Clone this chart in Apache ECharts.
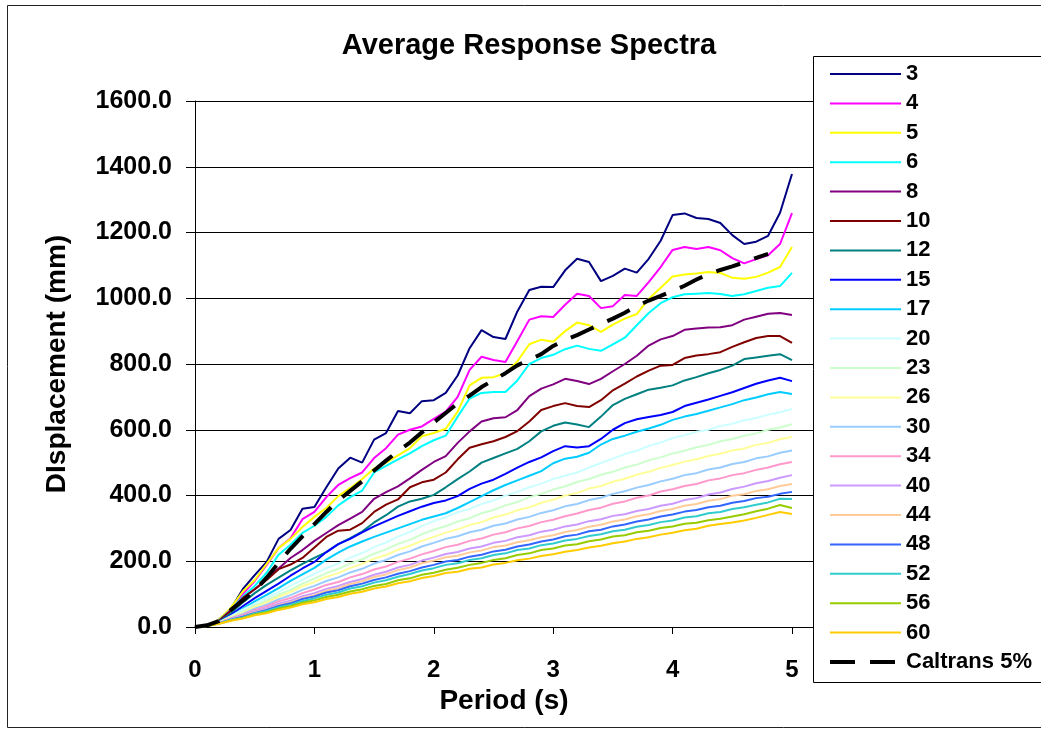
<!DOCTYPE html>
<html>
<head>
<meta charset="utf-8">
<script src="https://cdn.jsdelivr.net/npm/echarts@6/dist/echarts.min.js"></script>
<style>
  html, body { margin: 0; padding: 0; background: #fff; }
  #chart { width: 1041px; height: 729px; }
</style>
</head>
<body>
<div id="chart"></div>
<script>
// Period axis (s)
const periods = [
  0.0, 0.1, 0.2, 0.3, 0.4, 0.5, 0.6, 0.7, 0.8, 0.9,
  1.0, 1.1, 1.2, 1.3, 1.4, 1.5, 1.6, 1.7, 1.8, 1.9,
  2.0, 2.1, 2.2, 2.3, 2.4, 2.5, 2.6, 2.7, 2.8, 2.9,
  3.0, 3.1, 3.2, 3.3, 3.4, 3.5, 3.6, 3.7, 3.8, 3.9,
  4.0, 4.1, 4.2, 4.3, 4.4, 4.5, 4.6, 4.7, 4.8, 4.9,
  5.0
];

// Average displacement spectra (mm), one array per record set
const s3 = [0,5,22,55,115,158,198,268,295,360, 365,425,482,515,500,570,590,657,650,687, 690,712,765,848,903,882,876,960,1025,1035, 1034,1085,1120,1110,1052,1068,1090,1078,1120,1175, 1253,1258,1244,1241,1229,1192,1165,1172,1190,1260, 1378];
const s4 = [0,5,20,55,100,140,189,240,270,328, 350,395,432,453,470,514,544,585,600,610, 633,655,700,782,822,812,806,870,935,945, 943,980,1014,1007,970,976,1010,1007,1049,1095, 1147,1156,1150,1156,1146,1122,1106,1119,1131,1165, 1259];
const s5 = [0,5,22,58,108,143,192,240,268,304, 335,362,398,423,450,482,500,522,544,580, 590,603,655,735,758,760,772,808,860,874, 868,900,926,918,898,920,938,952,998,1032, 1066,1072,1075,1080,1077,1062,1059,1065,1078,1095, 1156];
const s6 = [0,5,20,52,92,125,165,220,250,286, 308,335,370,395,415,470,490,510,528,550, 568,582,640,695,712,715,715,750,800,818, 828,845,856,846,840,860,880,918,955,985, 1003,1012,1014,1016,1013,1007,1012,1022,1032,1037, 1077];
const s8 = [0,5,18,52,88,115,145,178,210,234, 262,286,310,330,350,390,410,428,452,478, 502,520,560,595,625,635,638,660,702,725, 738,755,748,739,755,778,800,825,856,875, 885,904,908,911,912,918,935,944,953,955, 949];
const s10 = [0,5,18,48,88,115,143,176,190,210, 242,274,293,296,316,350,372,388,425,440, 448,470,510,545,556,565,578,596,625,660, 672,681,672,669,690,720,740,762,780,795, 797,818,826,830,836,852,866,879,885,885, 864];
const s12 = [0,5,16,42,75,103,128,150,172,192, 210,228,252,270,290,318,340,366,382,390, 402,425,450,473,500,514,528,542,565,595, 612,622,616,608,640,675,694,708,722,728, 735,750,760,772,782,795,815,820,825,830, 812];
const s15 = [0,5,15,36,63,88,110,132,156,178, 198,228,252,268,288,306,322,338,352,366, 377,385,398,420,436,448,466,485,502,516, 535,550,546,550,572,600,620,632,639,645, 654,672,682,692,703,714,727,740,750,758, 748];
const s17 = [0,4,14,32,56,78,98,118,140,160, 180,205,226,245,260,274,287,300,313,326, 336,346,362,380,398,416,432,446,460,474, 498,512,518,530,555,572,582,594,604,615, 630,640,648,658,668,678,690,698,708,715, 709];
const s20 = [0,4,14,33,53,70,89,106,126,143, 162,179,193,211,225,243,257,275,289,307, 322,334,349,359,374,385,400,411,425,436, 450,460,470,485,499,512,526,536,551,561, 575,583,594,600,611,618,629,636,646,653, 663];
const s23 = [0,4,13,31,46,65,80,98,113,132, 147,164,177,193,206,223,236,253,265,282, 296,307,321,331,346,356,370,380,395,405, 418,428,441,450,463,472,485,494,507,516, 528,536,547,554,565,572,582,589,600,607, 617];
const s26 = [0,4,13,30,43,61,75,92,106,124, 137,153,164,180,192,208,219,235,247,262, 274,287,297,310,319,333,342,355,364,378, 387,400,408,421,429,442,451,463,472,484, 493,503,510,520,527,537,543,554,560,571, 578];
const s30 = [0,4,12,27,39,56,68,84,97,113, 125,140,151,166,177,193,204,219,230,245, 256,268,276,288,296,308,315,327,335,347, 355,367,374,386,393,405,413,424,432,443, 451,462,468,479,485,496,502,513,519,530, 537];
const s34 = [0,4,12,26,37,52,63,78,88,103, 114,128,137,151,161,175,184,198,208,221, 231,243,250,262,269,281,288,300,307,319, 326,337,345,356,363,375,382,393,400,412, 419,429,435,446,452,462,468,478,485,495, 502];
const s40 = [0,4,12,25,34,48,57,71,80,94, 103,116,125,137,146,159,168,181,189,202, 211,222,228,239,245,256,262,273,279,290, 296,306,312,322,328,338,343,353,359,369, 375,386,392,403,409,420,427,437,444,454, 462];
const s44 = [0,3,11,23,32,45,53,66,75,88, 97,110,118,131,139,152,160,173,181,194, 202,212,217,227,233,243,248,258,264,273, 279,289,295,305,311,321,327,337,343,353, 359,369,374,384,389,399,404,414,419,429, 435];
const s48 = [0,3,11,22,31,43,52,64,72,85, 93,105,112,124,132,143,151,162,170,181, 189,199,204,214,220,230,235,245,251,260, 266,276,281,291,296,306,312,321,327,336, 342,351,356,364,369,378,383,392,396,405, 411];
const s52 = [0,3,11,22,29,41,49,60,68,79, 87,98,105,117,124,135,142,153,161,172, 179,189,194,204,209,219,224,234,239,249, 254,263,268,277,282,291,296,305,310,319, 324,333,337,346,350,359,364,372,379,390, 389];
const s56 = [0,3,10,20,27,38,45,56,63,74, 81,91,98,108,115,125,131,142,148,159, 165,174,180,189,195,204,209,219,224,234, 239,248,252,261,266,275,279,288,293,301, 306,314,317,325,329,336,343,352,360,371, 362];
const s60 = [0,3,10,19,26,36,42,52,59,69, 75,85,91,101,107,117,123,133,139,149, 155,164,168,177,181,190,195,203,208,216, 221,229,234,242,247,255,260,268,273,281, 287,294,299,308,313,318,324,332,341,350, 344];

// Caltrans 5% damped design spectrum (defined up to 4.8 s)
const caltrans = [0,5,18,52,80,110,150,195,238,276, 313,350,385,414,443,476,506,535,561,592, 622,651,680,704,730,751,772,796,813,830, 855,873,888,905,922,938,956,976,993,1007, 1022,1038,1057,1073,1086,1097,1109,1123,1135];

// Series labels and colours
const seriesNames = ['3','4','5','6','8','10','12','15','17','20','23','26','30','34','40','44','48','52','56','60'];
const seriesValues = [s3,s4,s5,s6,s8,s10,s12,s15,s17,s20,s23,s26,s30,s34,s40,s44,s48,s52,s56,s60];
const seriesColors = ['#000080','#FF00FF','#FFFF00','#00FFFF','#800080','#800000','#008080','#0000FF','#00CCFF','#CCFFFF',
                      '#CCFFCC','#FFFF99','#99CCFF','#FF99CC','#CC99FF','#FFCC99','#3366FF','#33CCCC','#99CC00','#FFCC00'];
const designName = 'Caltrans 5%';

// Axis tick settings
const yTicks = { min: 0, max: 1600, step: 200 };
const xTicks = { min: 0, step: 1 };

const FONT = '"Liberation Sans", Arial, Helvetica, sans-serif';
const DESIGN_DASH = [25, 15];

const chart = echarts.init(document.getElementById('chart'), null, { renderer: 'canvas' });

const series = seriesValues.map((vals, k) => ({
  name: seriesNames[k],
  type: 'line',
  symbol: 'none',
  silent: true,
  color: seriesColors[k],
  lineStyle: { color: seriesColors[k], width: 2 },
  data: vals.map((v, i) => [periods[i], v])
}));

series.push({
  name: designName,
  type: 'line',
  symbol: 'none',
  silent: true,
  color: '#000',
  lineStyle: { color: '#000', width: 4, type: DESIGN_DASH },
  data: caltrans.map((v, i) => [periods[i], v])
});

// Legend entries: plain line swatches, the design curve dashed and thick
const legendData = seriesNames.map((n, k) => ({
  name: n,
  lineStyle: { color: seriesColors[k], width: 2, type: 'solid' }
}));
legendData.push({
  name: designName,
  lineStyle: { color: '#000', width: 4, type: DESIGN_DASH }
});

const option = {
  animation: false,
  backgroundColor: '#fff',
  grid: { left: 195, top: 101, width: 618, height: 526, containLabel: false },
  xAxis: {
    type: 'value',
    min: xTicks.min,
    max: 5.176,
    interval: xTicks.step,
    axisLine: { show: true, lineStyle: { color: '#000', width: 1 } },
    axisTick: { show: true, length: 7, inside: false, lineStyle: { color: '#000' } },
    splitLine: { show: false },
    axisLabel: {
      formatter: v => (Math.abs(v - Math.round(v)) < 1e-6 ? String(Math.round(v)) : ''),
      fontSize: 24, fontWeight: 'bold', color: '#000', fontFamily: FONT, margin: 31
    },
    name: 'Period (s)',
    nameLocation: 'middle',
    nameGap: 60,
    nameTextStyle: { fontSize: 28, fontWeight: 'bold', color: '#000', fontFamily: FONT }
  },
  yAxis: {
    type: 'value',
    min: yTicks.min,
    max: yTicks.max,
    interval: yTicks.step,
    axisLine: { show: true, lineStyle: { color: '#000', width: 1 } },
    axisTick: { show: true, length: 9, inside: false, lineStyle: { color: '#000' } },
    splitLine: { show: true, lineStyle: { color: '#000', width: 1 } },
    axisLabel: {
      formatter: v => v.toFixed(1),
      fontSize: 25, fontWeight: 'bold', color: '#000', fontFamily: FONT, margin: 23
    },
    name: 'DIsplacement (mm)',
    nameLocation: 'middle',
    nameRotate: 90,
    nameGap: 124,
    nameTextStyle: { fontSize: 28, fontWeight: 'bold', color: '#000', fontFamily: FONT }
  },
  legend: {
    orient: 'vertical',
    left: 828,
    top: 63,
    padding: 0,
    itemWidth: 71,
    itemHeight: 12,
    itemGap: 7.4,
    selectedMode: false,
    itemStyle: { color: 'rgba(0,0,0,0)', borderWidth: 0, opacity: 0 },
    data: legendData,
    textStyle: { fontSize: 22, fontWeight: 'bold', color: '#000', fontFamily: FONT, lineHeight: 22 }
  },
  graphic: [
    {
      type: 'rect', silent: true, z: 100,
      shape: { x: 7.5, y: 5.5, width: 1100, height: 722 },
      style: { fill: 'none', stroke: '#222', lineWidth: 1 }
    },
    {
      type: 'rect', silent: true, z: 100,
      shape: { x: 813.5, y: 56.5, width: 300, height: 626 },
      style: { fill: 'none', stroke: '#000', lineWidth: 1 }
    },
    {
      type: 'text', silent: true, z: 100,
      x: 529, y: 31,
      style: {
        text: 'Average Response Spectra',
        fontSize: 29, fontWeight: 'bold', fontFamily: FONT, fill: '#000',
        align: 'center', verticalAlign: 'top', textAlign: 'center', textVerticalAlign: 'top'
      }
    }
  ],
  series: series
};

chart.setOption(option);
</script>
</body>
</html>
